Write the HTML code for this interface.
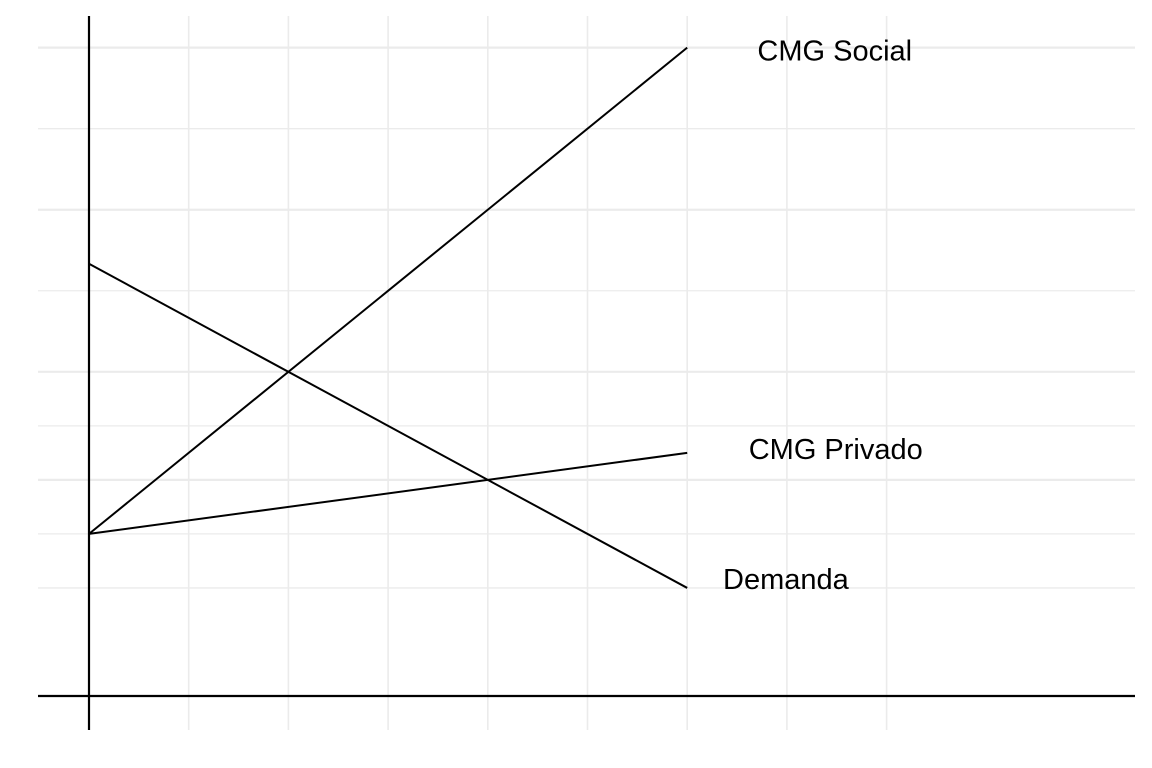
<!DOCTYPE html>
<html><head><meta charset="utf-8"><style>
html,body{margin:0;padding:0;background:#fff;width:1152px;height:768px;overflow:hidden}
text{font-family:"Liberation Sans",Arial,sans-serif;font-size:29px;fill:#000}
</style></head><body>
<svg id="chart" width="1152" height="768" xmlns="http://www.w3.org/2000/svg">
<g id="grid"></g>
<g id="axes"></g>
<g id="series"></g>
<g id="labels"></g>
</svg>
<script>
const seriesNames = ["CMG Social", "CMG Privado", "Demanda"];
const seriesX = [[0, 6], [0, 6], [0, 6]];
const seriesY = [[3, 12], [3, 4.5], [8, 2]];
const labelX = [7.48, 7.49, 6.99];
const labelY = [11.93, 4.55, 2.15];
const xGrid = [1, 2, 3, 4, 5, 6, 7, 8];
const yGridMajor = [4, 6, 9, 12];
const yGridMinor = [2, 3, 5, 7.5, 10.5];

const NS = "http://www.w3.org/2000/svg";
const x0 = 89, xu = 99.7, y0 = 696, yu = 54.03;
function sx(v){ return x0 + v * xu; }
function sy(v){ return y0 - v * yu; }
function mk(tag, attrs, parent){
  const e = document.createElementNS(NS, tag);
  for (const k in attrs) e.setAttribute(k, attrs[k]);
  parent.appendChild(e); return e;
}
const grid = document.getElementById('grid');
xGrid.forEach(v => {
  const l = mk('line', {x1:sx(v), x2:sx(v), y1:16, y2:730, stroke:'#ebebeb', 'stroke-width':1.6}, grid);
  
  
});
yGridMajor.forEach(v => {
  const l = mk('line', {x1:38, x2:1135, y1:sy(v), y2:sy(v), stroke:'#ebebeb', 'stroke-width':2.2}, grid);
  
  
});
yGridMinor.forEach(v => {
  const l = mk('line', {x1:38, x2:1135, y1:sy(v), y2:sy(v), stroke:'#ebebeb', 'stroke-width':1.3}, grid);
  
  
});
const axes = document.getElementById('axes');
const ya = mk('line', {x1:sx(0), x2:sx(0), y1:16, y2:730, stroke:'#000', 'stroke-width':2.2}, axes);


const xa = mk('line', {x1:38, x2:1135, y1:sy(0), y2:sy(0), stroke:'#000', 'stroke-width':2.2}, axes);


const sg = document.getElementById('series');
const lg = document.getElementById('labels');
seriesNames.forEach((n, i) => {
  const pts = seriesX[i].map((x, j) => sx(x) + ',' + sy(seriesY[i][j])).join(' ');
  const p = mk('polyline', {points:pts, fill:'none', stroke:'#000', 'stroke-width':2}, sg);
  
  
  const t = mk('text', {x:sx(labelX[i]), y:sy(labelY[i]), 'text-anchor':'middle', 'dominant-baseline':'central'}, lg);
  t.textContent = n;
  
  
});
</script>
</body></html>
